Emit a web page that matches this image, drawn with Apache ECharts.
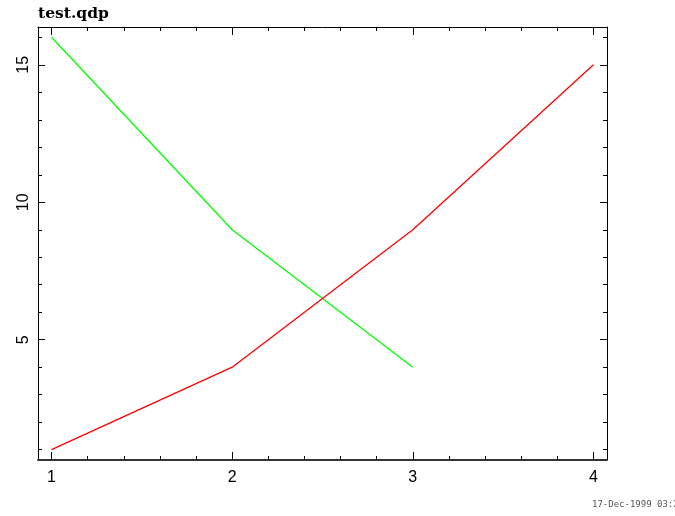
<!DOCTYPE html>
<html>
<head>
<meta charset="utf-8">
<script src="https://cdn.jsdelivr.net/npm/echarts@6/dist/echarts.min.js"></script>
<style>
  html, body { margin: 0; padding: 0; background: #fff; }
  #chart { width: 675px; height: 516px; }
</style>
</head>
<body>
<div id="chart"></div>
<script>
// QDP plot data: two curves on a shared x grid
const greenX = [1, 2, 3];
const greenY = [16, 9, 4];
const redX = [1, 2, 3, 4];
const redY = [1, 4, 9, 15];

// axis ranges and tick positions
const xRange = [0.925, 4.075];
const yRange = [0.625, 16.375];
const xMajorTicks = [1, 2, 3, 4];
const xMinorTicks = [1.2, 1.4, 1.6, 1.8, 2.2, 2.4, 2.6, 2.8, 3.2, 3.4, 3.6, 3.8];
const yMajorTicks = [5, 10, 15];
const yMinorTicks = [1, 2, 3, 4, 6, 7, 8, 9, 11, 12, 13, 14, 16];

const titleText = 'test.qdp';
const stampText = '17-Dec-1999 03:27';

const pairs = (xs, ys) => xs.map((x, i) => [x, ys[i]]);

function xAxisDef(position, ticks, len, showLine, lineW, lineColor, showLabel) {
  return {
    type: 'value', position: position, offset: 0,
    min: xRange[0], max: xRange[1],
    axisLine: { show: showLine, onZero: false, lineStyle: { color: lineColor, width: lineW } },
    axisTick: { show: true, inside: true, length: len, customValues: ticks,
                lineStyle: { color: '#000', width: 1 } },
    axisLabel: showLabel ? {
      show: true, customValues: ticks, margin: 10,
      fontFamily: 'Liberation Sans', fontSize: 16, color: '#000'
    } : { show: false },
    splitLine: { show: false }
  };
}

function yAxisDef(position, ticks, len, showLine, showLabel) {
  return {
    type: 'value', position: position, offset: 0,
    min: yRange[0], max: yRange[1],
    axisLine: { show: showLine, onZero: false, lineStyle: { color: '#000', width: 1 } },
    axisTick: { show: true, inside: true, length: len, customValues: ticks,
                lineStyle: { color: '#000', width: 1 } },
    axisLabel: showLabel ? {
      show: true, customValues: ticks, rotate: 90, margin: 6,
      fontFamily: 'Liberation Sans', fontSize: 16, color: '#000'
    } : { show: false },
    splitLine: { show: false }
  };
}

const chart = echarts.init(document.getElementById('chart'), null, { renderer: 'canvas' });
chart.setOption({
  backgroundColor: '#fff',
  animation: false,
  title: {
    text: titleText, left: 38, top: 6, padding: 0,
    textStyle: { fontFamily: 'DejaVu Serif', fontWeight: 'bold', fontSize: 15.5, color: '#000' }
  },
  graphic: [{
    type: 'text', left: 592, top: 500,
    style: { text: stampText, font: '9px "DejaVu Sans Mono"', fill: '#555' }
  }],
  grid: { left: 38, right: 68, top: 27, bottom: 56, containLabel: false },
  xAxis: [
    xAxisDef('bottom', xMajorTicks, 8, true, 2, '#333', true),
    xAxisDef('bottom', xMinorTicks, 4, false, 1, '#000', false),
    xAxisDef('top', xMajorTicks, 8, true, 1, '#000', false),
    xAxisDef('top', xMinorTicks, 4, false, 1, '#000', false)
  ],
  yAxis: [
    yAxisDef('left', yMajorTicks, 7, true, true),
    yAxisDef('left', yMinorTicks, 4, false, false),
    yAxisDef('right', yMajorTicks, 7, true, false),
    yAxisDef('right', yMinorTicks, 4, false, false)
  ],
  series: [
    {
      type: 'line', xAxisIndex: 0, yAxisIndex: 0, silent: true,
      data: pairs(greenX, greenY), showSymbol: false,
      lineStyle: { color: '#00ff00', width: 1.3 }
    },
    {
      type: 'line', xAxisIndex: 0, yAxisIndex: 0, silent: true,
      data: pairs(redX, redY), showSymbol: false,
      lineStyle: { color: '#ff0000', width: 1.3 }
    }
  ]
});
</script>
</body>
</html>
